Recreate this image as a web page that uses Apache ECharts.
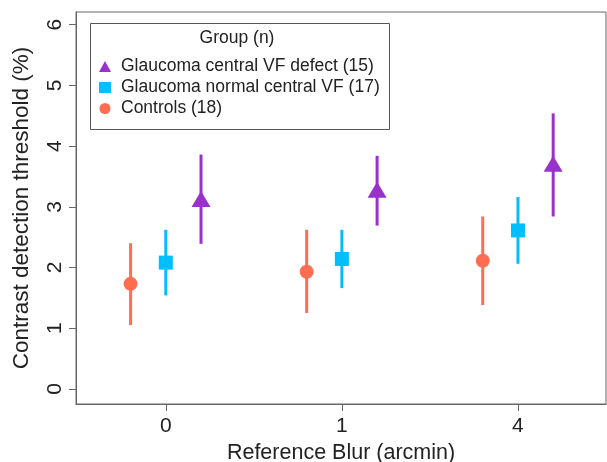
<!DOCTYPE html>
<html><head><meta charset="utf-8">
<script src="https://cdn.jsdelivr.net/npm/echarts@6/dist/echarts.min.js"></script>
<style>html,body{margin:0;padding:0;background:#fff}#c{width:607px;height:462px}</style>
</head><body><div id="c"></div>
<script>
// ---- data ----
const blurLabels = ['0', '1', '4'];
const yTicks = [0, 1, 2, 3, 4, 5, 6];
const groupNames = ['Glaucoma central VF defect (15)', 'Glaucoma normal central VF (17)', 'Controls (18)'];
const defectMean = [3.13, 3.28, 3.71];
const defectLo = [2.39, 2.69, 2.84];
const defectHi = [3.86, 3.84, 4.54];
const normalMean = [2.08, 2.14, 2.61];
const normalLo = [1.54, 1.66, 2.06];
const normalHi = [2.62, 2.62, 3.16];
const controlMean = [1.73, 1.93, 2.11];
const controlLo = [1.05, 1.25, 1.38];
const controlHi = [2.40, 2.62, 2.84];

// ---- styling ----
const FONT = 'Liberation Sans, Arial, sans-serif';
const groups = [
  {name: groupNames[0], mean: defectMean, lo: defectLo, hi: defectHi, color: '#9932CC', symbol: 'triangle', size: [19, 16], off: 0.2},
  {name: groupNames[1], mean: normalMean, lo: normalLo, hi: normalHi, color: '#00BFFF', symbol: 'rect', size: 14, off: 0},
  {name: groupNames[2], mean: controlMean, lo: controlLo, hi: controlHi, color: '#FF6E50', symbol: 'circle', size: 14, off: -0.2}
];

const series = [];
groups.forEach(g => {
  series.push({
    type: 'custom',
    name: g.name + ' err',
    data: g.mean.map((m, i) => [i + g.off, g.lo[i], g.hi[i]]),
    renderItem: function (params, api) {
      const p1 = api.coord([api.value(0), api.value(1)]);
      const p2 = api.coord([api.value(0), api.value(2)]);
      return {type: 'line', shape: {x1: p1[0], y1: p1[1], x2: p2[0], y2: p2[1]},
        style: {stroke: g.color, lineWidth: 3}};
    },
    silent: true, z: 2
  });
  series.push({
    type: 'scatter',
    name: g.name,
    data: g.mean.map((m, i) => [i + g.off, m]),
    symbol: g.symbol,
    symbolSize: g.size,
    itemStyle: {color: g.color, opacity: 1},
    z: 3
  });
});

const chart = echarts.init(document.getElementById('c'), null, {renderer: 'canvas'});
chart.setOption({
  animation: false,
  backgroundColor: '#fff',
  grid: {left: 76, top: 12, width: 530, height: 392, show: true, borderColor: '#666', borderWidth: 1, containLabel: false, outerBoundsMode: 'none'},
  xAxis: {
    type: 'value', min: -0.51, max: 2.5,
    axisLine: {show: true, onZero: false, lineStyle: {color: '#666', width: 1}},
    splitLine: {show: false},
    axisTick: {show: true, inside: false, length: 7, lineStyle: {color: '#666'}, customValues: [0, 1, 2]},
    axisLabel: {customValues: [0, 1, 2], formatter: v => blurLabels[Math.round(v)], fontSize: 21, color: '#222', fontFamily: FONT, margin: 12},
    name: 'Reference Blur (arcmin)', nameLocation: 'middle', nameGap: 38,
    nameTextStyle: {fontSize: 21.5, color: '#222', fontFamily: FONT}
  },
  yAxis: {
    type: 'value', min: -0.25, max: 6.21,
    axisLine: {show: true, onZero: false, lineStyle: {color: '#666', width: 1}},
    splitLine: {show: false},
    axisTick: {show: true, inside: false, length: 7, lineStyle: {color: '#666'}, customValues: yTicks},
    axisLabel: {customValues: yTicks, rotate: 90, fontSize: 21, color: '#222', fontFamily: FONT, margin: 10},
    name: 'Contrast detection threshold (%)', nameLocation: 'middle', nameGap: 43,
    nameTextStyle: {fontSize: 22.5, color: '#222', fontFamily: FONT}
  },
  legend: {
    orient: 'vertical', left: 94, top: 51,
    data: groupNames,
    itemWidth: 12, itemHeight: 11, itemGap: 0,
    textStyle: {fontSize: 17.5, color: '#222', fontFamily: FONT, lineHeight: 21, padding: [0, 0, 0, 5]},
    selectedMode: false
  },
  graphic: [
    {type: 'rect', left: 88, top: 21, shape: {width: 299, height: 106}, style: {fill: 'none', stroke: '#555', lineWidth: 1}, z: 10},
    {type: 'text', x: 237, y: 38, style: {text: 'Group (n)', fontSize: 17.5, fill: '#222', fontFamily: FONT, textAlign: 'center', textVerticalAlign: 'middle'}, z: 10}
  ],
  series: series
});
</script></body></html>
